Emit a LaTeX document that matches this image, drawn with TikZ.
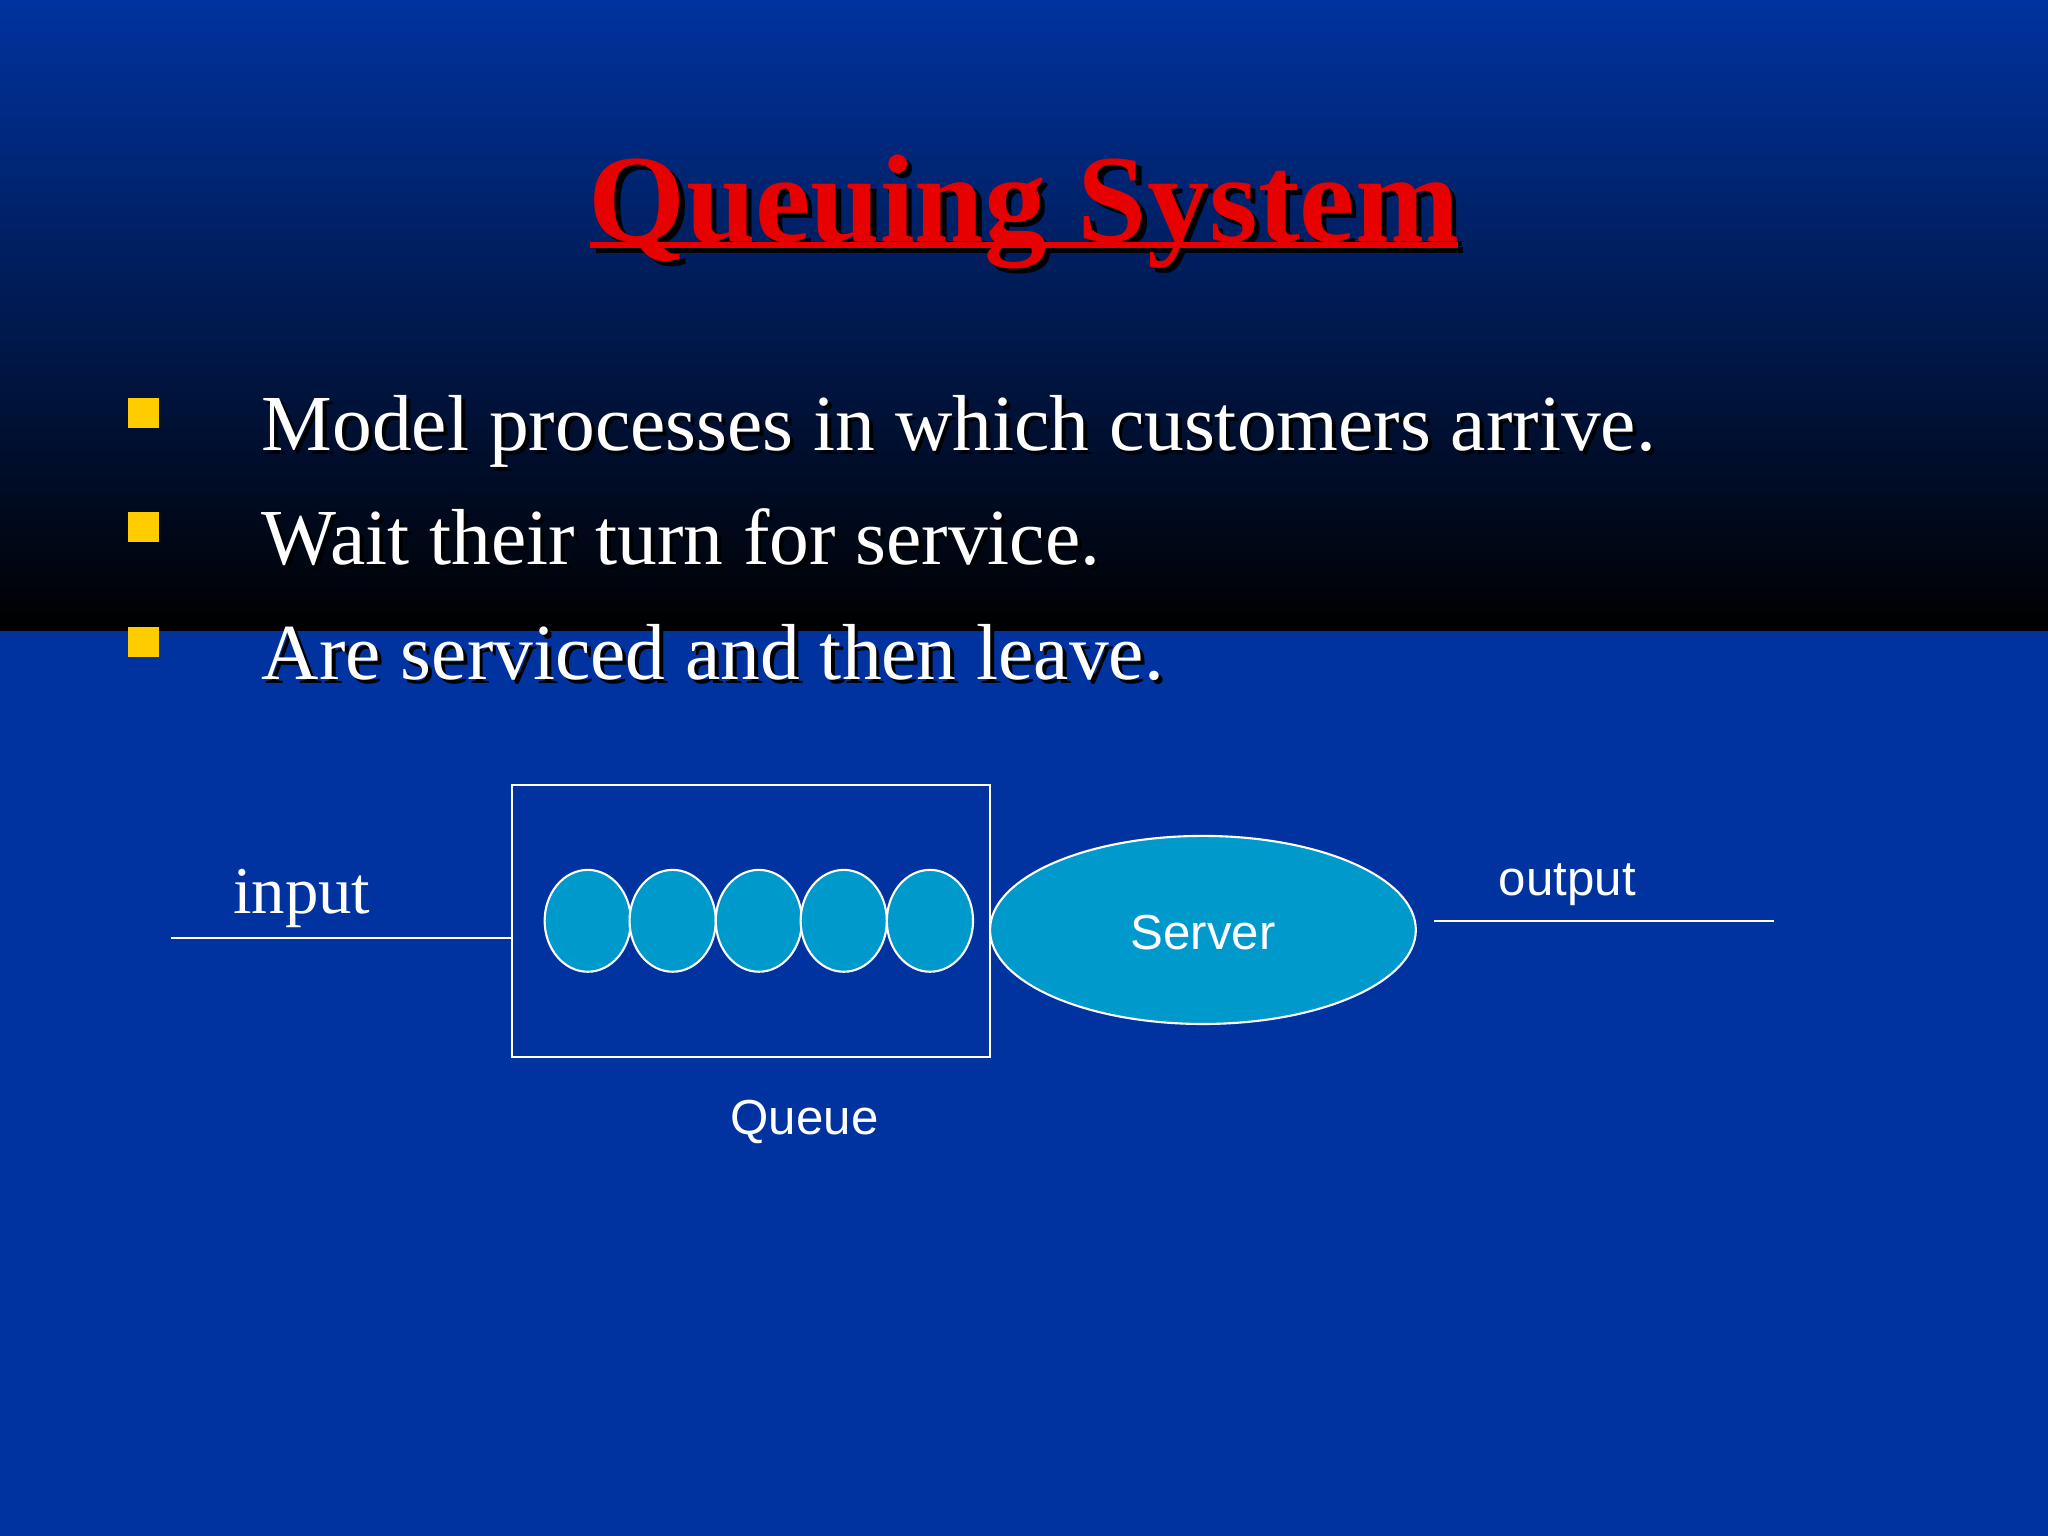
\documentclass[tikz,border=0pt]{standalone}
\usepackage{fontspec}
\setmainfont{Liberation Serif}
\setsansfont{Liberation Sans}
\definecolor{bg}{RGB}{0,51,160}
\definecolor{cust}{RGB}{0,153,204}
\definecolor{tred}{RGB}{230,0,0}
\definecolor{byel}{RGB}{255,204,0}
\begin{document}
\begin{tikzpicture}[x=0.013061cm,y=-0.013061cm,
  bl/.style={anchor=base west,inner sep=0,text=white,font=\fontsize{22.6}{27}\selectfont},
  tt/.style={anchor=base,inner sep=0,font=\fontsize{35.5}{42}\bfseries\selectfont},
  sm/.style={text=white,font=\sffamily\fontsize{14}{16}\selectfont}]
\useasboundingbox (0,0) rectangle (1568,1176);
\fill[bg] (0,0) rectangle (1568,1176);
\shade[top color=bg,bottom color=black] (0,0) rectangle (1568,483);
% title
\node[tt,text=black] at (788,189) {Queuing System};
\fill[black] (456,189) rectangle (1120,194);
\node[tt,text=tred] (title) at (784,185) {Queuing System};
\fill[tred] (452,185) rectangle (1116,190);
% bullets
\foreach \yy/\t [count=\i] in {345/{Model processes in which customers arrive.},432/{Wait their turn for service.},520/{Are serviced and then leave.}}{
  \fill[byel] (98,\yy-40) rectangle (122,\yy-17);
  \node[bl,text=black] at (203,\yy+3) {\t};
  \node[bl] (b\i) at (200,\yy) {\t};
}
% diagram
\node[draw=white,line width=0.6pt,minimum width=366*0.013061cm,minimum height=208*0.013061cm,inner sep=0] (box) at (575,705) {};
\foreach \xx [count=\i] in {450,515,581,646,712}
  \draw[white,fill=cust,line width=0.6pt] (\xx,705) ellipse [x radius=33,y radius=39];
\draw[white,fill=cust,line width=0.6pt] (921,712) ellipse [x radius=163,y radius=72];
\node[sm] (server) at (921,714) {Server};
\coordinate (in) at (131,718);
\draw[white,line width=0.6pt] (in) -- (box.west |- in);
\node[text=white,font=\fontsize{19}{22}\selectfont] (input) at (231,688) {input};
\coordinate (o1) at (1098,705); \coordinate (o2) at (1358,705);
\draw[white,line width=0.6pt] (o1) -- (o2);
\node[sm] (output) at (1200,677) {output};
\node[sm] (queue) at (616,859) {Queue};
\end{tikzpicture}
\end{document}
